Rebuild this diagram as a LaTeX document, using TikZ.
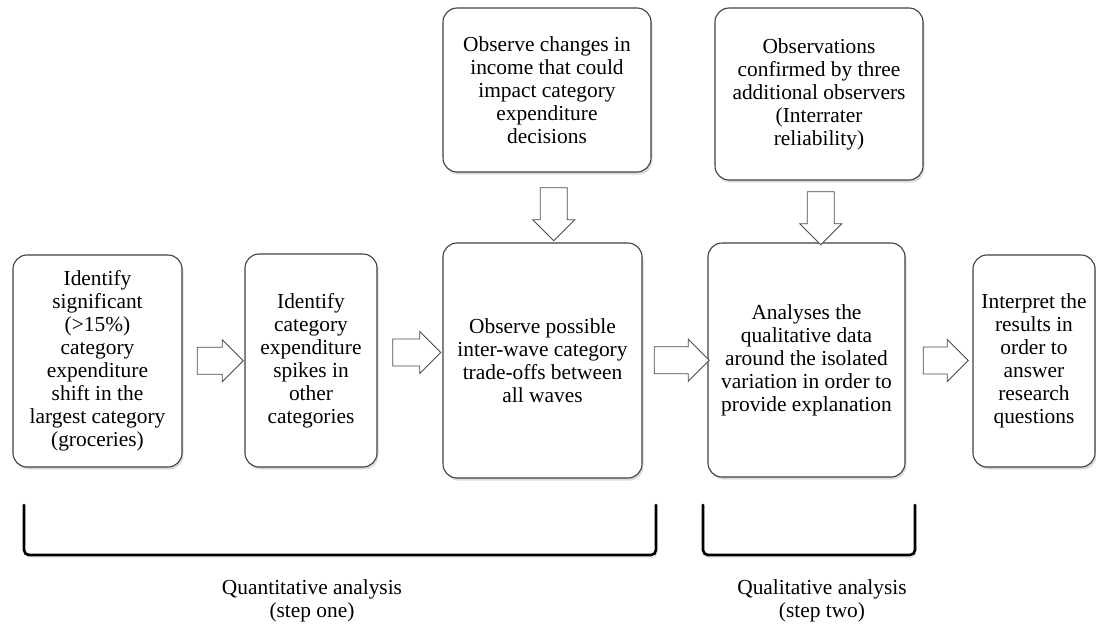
\documentclass[tikz,border=0pt]{standalone}
\usepackage{fontspec}
\setmainfont{Liberation Serif}
\newfontfamily\stagefont{Liberation Serif}
\usetikzlibrary{shapes.arrows}
\usetikzlibrary{shadows}
\usetikzlibrary{calc}

\tikzset{
  stage/.style={draw=black!75, line width=1.1pt, rounded corners=14pt, fill=white,
    align=center, inner sep=0pt, font=\stagefont\fontsize{21.4}{23}\selectfont,
    drop shadow={shadow xshift=1.5pt, shadow yshift=-2.5pt, fill=black!28}},
  flow/.style={single arrow, draw=black!70, fill=white, line width=0.9pt,
    inner xsep=0pt, inner ysep=13pt, minimum width=42pt,
    single arrow head extend=7.5pt, single arrow tip angle=90},
  bracket/.style={line width=2.6pt, rounded corners=5pt, line cap=round,
    preaction={draw=black!25, transform canvas={xshift=1pt, yshift=-2.5pt}}},
  phase/.style={align=center, font=\stagefont\fontsize{21.4}{22.5}\selectfont}
}

\begin{document}
\begin{tikzpicture}[x=1pt, y=-1pt]
\useasboundingbox (0,0) rectangle (1096,625);

\node[stage, minimum width=169pt, minimum height=212pt] (idsig) at (97.5,361)
  {Identify\\significant\\(>15\%)\\category\\expenditure\\shift in the\\largest category\\(groceries)};
\node[stage, minimum width=132pt, minimum height=213pt] (idspk) at (311,360.5)
  {Identify\\category\\expenditure\\spikes in\\other\\categories};
\node[stage, minimum width=199pt, minimum height=235pt] (obstrd) at (542.5,360.5)
  {Observe possible\\inter-wave category\\trade-offs between\\all waves};
\node[stage, minimum width=208pt, minimum height=164pt] (obsinc) at (547,90)
  {Observe changes in\\income that could\\impact category\\expenditure\\decisions};
\node[stage, minimum width=208pt, minimum height=172pt] (obscnf) at (819,94)
  {Observations\\confirmed by three\\additional observers\\(Interrater\\reliability)};
\node[stage, minimum width=197pt, minimum height=234pt] (qualan) at (806.5,360)
  {Analyses the\\qualitative data\\around the isolated\\variation in order to\\provide explanation};
\node[stage, minimum width=122pt, minimum height=212pt] (interp) at (1034,361)
  {Interpret the\\results in\\order to\\answer\\research\\questions};

\node[flow, minimum height=46pt] (ar1) at ($(idsig.east)!0.5!(idspk.west)$) {};
\node[flow, minimum height=48pt, yshift=8pt] (ar2) at ($(idspk.east)!0.5!(obstrd.west)$) {};
\node[flow, minimum height=55pt] (ar3) at ($(obstrd.east)!0.5!(qualan.west)$) {};
\node[flow, minimum height=45pt] (ar4) at ($(qualan.east)!0.5!(interp.west)$) {};
\node[xshift=9pt, flow, rotate=-90, minimum height=53pt] (ar5) at ($(obsinc.south)!0.5!(obstrd.north)$) {};
\node[xshift=8pt, flow, rotate=-90, minimum height=53pt] (ar6) at ($(obscnf.south)!0.5!(qualan.north)$) {};

\draw[bracket] (24,505) -- (24,555) -- (656,555) -- (656,505);
\draw[bracket] (703,505) -- (703,555) -- (915,555) -- (915,505);

\node[phase] (quant) at (312,601) {Quantitative analysis\\(step one)};
\node[phase] (qual) at (822,601) {Qualitative analysis\\(step two)};
\end{tikzpicture}
\end{document}
